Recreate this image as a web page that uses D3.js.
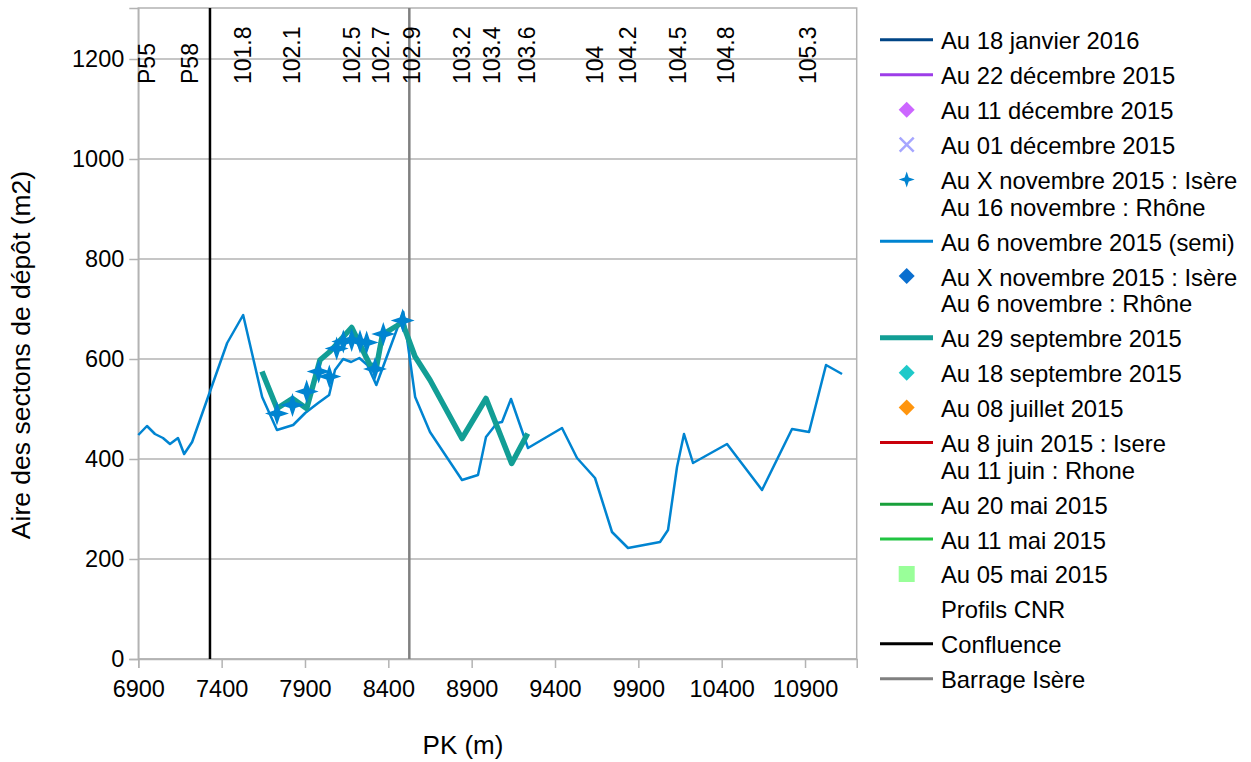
<!DOCTYPE html>
<html lang="fr">
    <head>
        <meta charset="utf-8">
        <title>Aire des sections de dépôt</title>
        <script type="text/javascript" src="https://cdnjs.cloudflare.com/ajax/libs/d3/7.8.5/d3.min.js"></script>
        <style type="text/css">
            body { margin: 0; background: #fff; }
            text { font-family: "Liberation Sans", Arial, sans-serif; fill: #000; }
        </style>
    </head>
    <body>
        <script type="text/javascript">
            // Au 6 novembre 2015 (semi)
            var semiPk = [6900, 6952, 7000, 7048, 7090, 7138, 7175, 7223, 7433, 7529, 7643, 7732, 7829, 7901, 7979, 8045, 8080, 8129, 8177, 8226, 8274, 8328, 8490, 8561, 8650, 8842, 8938, 8986, 9052, 9082, 9136, 9238, 9442, 9532, 9640, 9742, 9838, 10030, 10078, 10132, 10174, 10228, 10432, 10642, 10822, 10924, 11026, 11122];
            var semiAire = [448, 466, 450, 442, 430, 442, 410, 434, 632, 688, 524, 458, 468, 492, 512, 528, 578, 600, 594, 602, 588, 548, 694, 524, 454, 358, 368, 444, 472, 474, 520, 422, 462, 402, 362, 254, 222, 234, 258, 384, 450, 392, 430, 338, 460, 454, 588, 570];

            // Au 29 septembre 2015
            var septPk = [7642, 7732, 7825, 7910, 7990, 8050, 8180, 8290, 8330, 8365, 8484, 8560, 8650, 8842, 8986, 9140, 9236];
            var septAire = [575, 501, 521, 501, 598, 615, 663, 588, 586, 649, 673, 605, 558, 441, 521, 391, 451];

            // Au X novembre 2015 : Isère / Au 16 novembre : Rhône (étoiles)
            var starPk = [7732, 7825, 7910, 7982, 8046, 8090, 8130, 8180, 8230, 8270, 8320, 8370, 8486];
            var starAire = [491, 508, 535, 575, 565, 621, 635, 638, 635, 633, 580, 650, 677];

            // Profils CNR
            var cnrPk = [6952, 7210, 7528, 7822, 8182, 8356, 8542, 8842, 9022, 9232, 9640, 9838, 10138, 10426, 10918];
            var cnrAire = [1150, 1150, 1150, 1150, 1150, 1150, 1150, 1150, 1150, 1150, 1150, 1150, 1150, 1150, 1150];
            var cnrLabels = ["P55", "P58", "101.8", "102.1", "102.5", "102.7", "102.9", "103.2", "103.4", "103.6", "104", "104.2", "104.5", "104.8", "105.3"];

            var confluencePk = 7330;
            var barragePk = 8526;

            var xTicks = [6900, 7400, 7900, 8400, 8900, 9400, 9900, 10400, 10900];
            var yTicks = [0, 200, 400, 600, 800, 1000, 1200];

            var legendNames = [
                ["Au 18 janvier 2016"],
                ["Au 22 décembre 2015"],
                ["Au 11 décembre 2015"],
                ["Au 01 décembre 2015"],
                ["Au X novembre 2015 : Isère", "Au 16 novembre : Rhône"],
                ["Au 6 novembre 2015 (semi)"],
                ["Au X novembre 2015 : Isère", "Au 6 novembre : Rhône"],
                ["Au 29 septembre 2015"],
                ["Au 18 septembre 2015"],
                ["Au 08 juillet 2015"],
                ["Au 8 juin 2015 : Isere", "Au 11 juin : Rhone"],
                ["Au 20 mai 2015"],
                ["Au 11 mai 2015"],
                ["Au 05 mai 2015"],
                ["Profils CNR"],
                ["Confluence"],
                ["Barrage Isère"]
            ];
            var legendKinds = ["line", "line", "diamond", "cross", "star", "line", "diamond", "thick", "diamond", "diamond", "line", "line", "line", "square", "none", "line", "line"];
            var legendColors = ["#004586", "#9d3de8", "#cc66ff", "#a6a6ff", "#0084d1", "#0084d1", "#0a6fcf", "#129e95", "#1fc9c9", "#ff950e", "#c9000b", "#18a03b", "#21c442", "#99ff99", "none", "#000000", "#808080"];

            var w = 1251;
            var h = 762;
            var pL = 138.3, pR = 856.7, pT = 8, pB = 659;

            var svg = d3.select("body")
                        .append("svg")
                        .attr("width", w)
                        .attr("height", h);

            var x = d3.scaleLinear().domain([6900, 11210]).range([pL, pR]);
            var y = d3.scaleLinear().domain([0, 1302]).range([pB, pT]);

            // grid
            svg.append("g")
               .selectAll("line")
               .data(yTicks)
               .enter()
               .append("line")
               .attr("x1", pL)
               .attr("x2", pR)
               .attr("y1", function (d) { return y(d); })
               .attr("y2", function (d) { return y(d); })
               .attr("stroke", "#b3b3b3")
               .attr("stroke-width", 1.5);

            svg.append("rect")
               .attr("x", pL)
               .attr("y", pT)
               .attr("width", pR - pL)
               .attr("height", pB - pT)
               .attr("fill", "none")
               .attr("stroke", "#b3b3b3")
               .attr("stroke-width", 1.5);

            // axes
            var xAxis = svg.append("g")
               .attr("transform", "translate(0," + pB + ")")
               .call(d3.axisBottom(x).tickValues(xTicks).tickSize(9).tickPadding(12).tickFormat(d3.format("d")));
            var yAxis = svg.append("g")
               .attr("transform", "translate(" + pL + ",0)")
               .call(d3.axisLeft(y).tickValues(yTicks).tickSize(9).tickPadding(5).tickFormat(d3.format("d")));
            [xAxis, yAxis].forEach(function (a) {
                a.select(".domain").attr("stroke", "#b3b3b3").attr("stroke-width", 1.5);
                a.selectAll(".tick line").attr("stroke", "#b3b3b3").attr("stroke-width", 1.5);
                a.selectAll(".tick text").style("font-size", "23.5px").attr("fill", "#000");
            });

            // axis titles
            svg.append("text")
               .attr("x", 463)
               .attr("y", 754)
               .attr("text-anchor", "middle")
               .style("font-size", "26px")
               .text("PK (m)");
            svg.append("text")
               .attr("transform", "translate(30,355) rotate(-90)")
               .attr("text-anchor", "middle")
               .style("font-size", "26.5px")
               .text("Aire des sectons de dépôt (m2)");

            // vertical markers
            svg.append("line")
               .attr("x1", x(confluencePk)).attr("x2", x(confluencePk))
               .attr("y1", pT).attr("y2", pB)
               .attr("stroke", "#000").attr("stroke-width", 2.5);
            svg.append("line")
               .attr("x1", x(barragePk)).attr("x2", x(barragePk))
               .attr("y1", pT).attr("y2", pB)
               .attr("stroke", "#808080").attr("stroke-width", 2.5);

            // Profils CNR labels
            svg.append("g")
               .selectAll("text")
               .data(cnrPk)
               .enter()
               .append("text")
               .attr("transform", function (d, i) {
                   return "translate(" + x(d) + "," + y(cnrAire[i]) + ") rotate(-90)";
               })
               .attr("dy", "0.35em")
               .style("font-size", "23px")
               .text(function (d, i) { return cnrLabels[i]; });

            var line = d3.line()
                         .x(function (d) { return x(d[0]); })
                         .y(function (d) { return y(d[1]); });

            svg.append("path")
               .datum(semiPk.map(function (d, i) { return [d, semiAire[i]]; }))
               .attr("d", line)
               .attr("fill", "none")
               .attr("stroke", "#0084d1")
               .attr("stroke-width", 2.5)
               .attr("stroke-linejoin", "round");

            svg.append("path")
               .datum(septPk.map(function (d, i) { return [d, septAire[i]]; }))
               .attr("d", line)
               .attr("fill", "none")
               .attr("stroke", "#129e95")
               .attr("stroke-width", 5.5)
               .attr("stroke-linejoin", "round");

            function starPath(r, k) {
                return "M0," + (-r) + "L" + k + "," + (-k) + "L" + r + ",0L" + k + "," + k +
                       "L0," + r + "L" + (-k) + "," + k + "L" + (-r) + ",0L" + (-k) + "," + (-k) + "Z";
            }

            svg.append("g")
               .selectAll("path")
               .data(starPk)
               .enter()
               .append("path")
               .attr("transform", function (d, i) {
                   return "translate(" + x(d) + "," + y(starAire[i]) + ")";
               })
               .attr("d", starPath(12, 3))
               .attr("fill", "#0084d1");

            // legend
            var ly = 49.3;
            var lg = svg.append("g");
            legendNames.forEach(function (names, i) {
                var kind = legendKinds[i], col = legendColors[i];
                var cy = ly - 9.5;
                if (kind == "line" || kind == "thick") {
                    lg.append("line")
                      .attr("x1", 880).attr("x2", 933)
                      .attr("y1", cy).attr("y2", cy)
                      .attr("stroke", col)
                      .attr("stroke-width", kind == "thick" ? 5 : 3);
                } else if (kind == "diamond") {
                    lg.append("path")
                      .attr("transform", "translate(906.7," + cy + ")")
                      .attr("d", "M0,-8L8,0L0,8L-8,0Z")
                      .attr("fill", col);
                } else if (kind == "square") {
                    lg.append("rect")
                      .attr("x", 898.7).attr("y", cy - 8)
                      .attr("width", 16).attr("height", 16)
                      .attr("fill", col);
                } else if (kind == "cross") {
                    lg.append("path")
                      .attr("transform", "translate(906.7," + cy + ")")
                      .attr("d", "M-7,-7L7,7M7,-7L-7,7")
                      .attr("stroke", col)
                      .attr("stroke-width", 2.5);
                } else if (kind == "star") {
                    lg.append("path")
                      .attr("transform", "translate(906.7," + cy + ")")
                      .attr("d", starPath(8, 2))
                      .attr("fill", col);
                }
                names.forEach(function (n, j) {
                    lg.append("text")
                      .attr("x", 941)
                      .attr("y", ly + j * 26.7)
                      .style("font-size", "23.8px")
                      .text(n);
                });
                ly += 34.93 + (names.length - 1) * 26.7;
            });
        </script>
    </body>
</html>
